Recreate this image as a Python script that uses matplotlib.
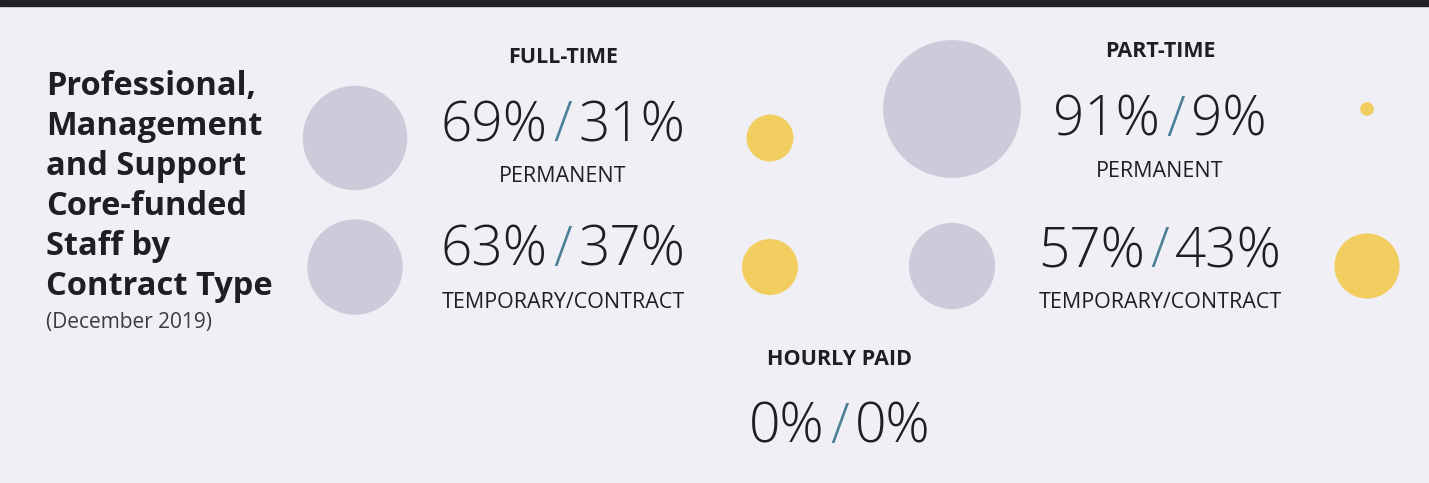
import matplotlib
matplotlib.use('Agg')
import matplotlib.pyplot as plt
from matplotlib.patches import Circle, Rectangle

# datos
titulo = ['Professional,', 'Management', 'and Support', 'Core-funded', 'Staff by', 'Contract Type']
subtitulo = '(December 2019)'
grupos = ['FULL-TIME', 'PART-TIME']
tipos = ['PERMANENT', 'TEMPORARY/CONTRACT']
full_time_izq = [69, 63]
full_time_der = [31, 37]
part_time_izq = [91, 57]
part_time_der = [9, 43]
hourly_izq = 0
hourly_der = 0

FONDO = '#f0eff5'
GRIS = '#cccbd9'
AMARILLO = '#f2cd5f'
BARRA = '#4a8096'
TEXTO = '#1e1e23'
FUENTE = 'Open Sans'
ESCALA = 0.757  # px de radio por punto porcentual
T_ETIQ = 15.5

fig = plt.figure(figsize=(14.29, 4.83), dpi=100, facecolor=FONDO)
ax = fig.add_axes([0, 0, 1, 1])
ax.set_xlim(0, 1429)
ax.set_ylim(483, 0)
ax.set_aspect('equal')
ax.axis('off')
ax.set_facecolor(FONDO)
ax.add_patch(Rectangle((0, 0), 1429, 6, color='#212125', zorder=1))
renderer = fig.canvas.get_renderer()


def texto_dividido(xc, y, izq, der, size=39.5, hueco=6):
    # escribo "izq / der" centrado con la barra en otro color
    partes = [(izq, TEXTO), ('/', BARRA), (der, TEXTO)]
    textos = []
    for s, c in partes:
        t = ax.text(0, y, s, fontsize=size, color=c, family=FUENTE, weight='light',
                    ha='left', va='baseline')
        textos.append(t)
    anchos = [t.get_window_extent(renderer).width for t in textos]
    total = sum(anchos) + 2 * hueco
    x = xc - total / 2
    for t, w in zip(textos, anchos):
        t.set_x(x)
        x += w + hueco


# titulo
for i, linea in enumerate(titulo):
    ax.text(46, 95 + 40 * i, linea, fontsize=23.5, weight='bold', family=FUENTE,
            color=TEXTO, ha='left', va='baseline')
ax.text(46, 328, subtitulo, fontsize=15, family=FUENTE, color='#3a3a40',
        ha='left', va='baseline')

# full-time
xc = 563
ax.text(xc, 63, grupos[0], fontsize=T_ETIQ, weight='bold', family=FUENTE, color=TEXTO,
        ha='center', va='baseline')
filas_y = [138, 267]
bases = [141, 266]
etiquetas_y = [181.7, 308]
for i in range(2):
    ax.add_patch(Circle((355, filas_y[i]), full_time_izq[i] * ESCALA, color=GRIS, lw=0))
    ax.add_patch(Circle((770, filas_y[i]), full_time_der[i] * ESCALA, color=AMARILLO, lw=0))
    texto_dividido(xc, bases[i], f'{full_time_izq[i]}%', f'{full_time_der[i]}%')
    ax.text(xc, etiquetas_y[i], tipos[i], fontsize=T_ETIQ, family=FUENTE, color=TEXTO,
            ha='center', va='baseline')

# part-time
xc = 1160
ax.text(xc, 56.7, grupos[1], fontsize=T_ETIQ, weight='bold', family=FUENTE, color=TEXTO,
        ha='center', va='baseline')
filas_y = [109, 266]
bases = [136, 267]
etiquetas_y = [176.7, 308]
for i in range(2):
    ax.add_patch(Circle((952, filas_y[i]), part_time_izq[i] * ESCALA, color=GRIS, lw=0))
    ax.add_patch(Circle((1367, filas_y[i]), part_time_der[i] * ESCALA, color=AMARILLO, lw=0))
    texto_dividido(xc, bases[i], f'{part_time_izq[i]}%', f'{part_time_der[i]}%')
    ax.text(xc, etiquetas_y[i], tipos[i], fontsize=T_ETIQ, family=FUENTE, color=TEXTO,
            ha='center', va='baseline')

# hourly paid
xc = 840
ax.text(xc, 365, 'HOURLY PAID', fontsize=T_ETIQ, weight='bold', family=FUENTE, color=TEXTO,
        ha='center', va='baseline')
texto_dividido(xc, 442.7, f'{hourly_izq}%', f'{hourly_der}%')

plt.savefig('out.png', dpi=100, facecolor=FONDO)
